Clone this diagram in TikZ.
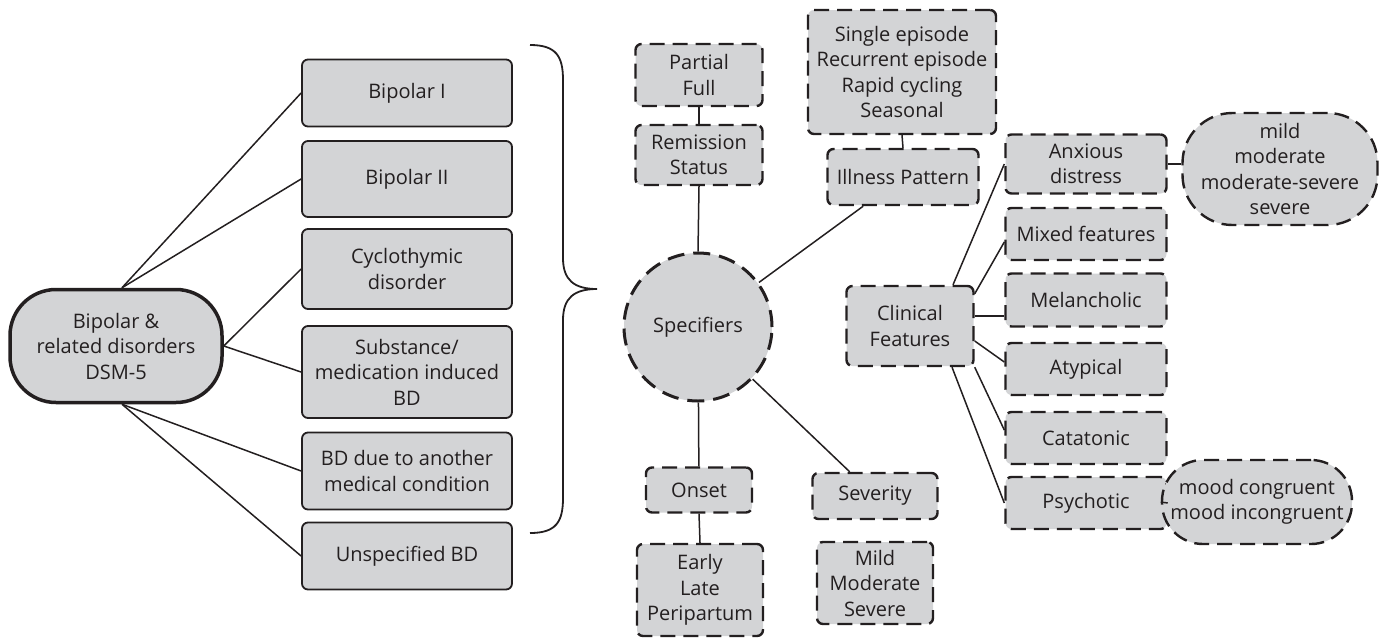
\documentclass[tikz,border=0pt]{standalone}
\usepackage{fontspec}
\setmainfont{Open Sans}
\usetikzlibrary{calc}
\definecolor{boxfill}{RGB}{211,212,214}
\definecolor{ink}{RGB}{35,31,32}

\begin{document}
\begin{tikzpicture}[x=1pt,y=-1pt,
  every node/.style={font=\fontsize{20}{25.5}\selectfont, text=ink, align=center, inner sep=0pt},
  sz/.style 2 args={minimum width=#1pt, minimum height=#2pt},
  base/.style={fill=boxfill, draw=ink},
  solidbox/.style={base, line width=1.8pt, rounded corners=6pt, minimum width=210pt},
  dashbox/.style={base, line width=2.4pt, rounded corners=6pt, dash pattern=on 15pt off 8pt},
  dashoval/.style={base, line width=2.4pt, dash pattern=on 15pt off 8pt},
  link/.style={draw=ink, line width=1.5pt},
]
\useasboundingbox (0,0) rectangle (1391,638);

% ---- root and disorder list ----
\node[base, line width=3.5pt, rounded corners=46pt, sz={212}{113}] (main) at (116,346)
  {Bipolar \&\\related disorders\\DSM-5};

\node[solidbox, minimum height=67pt] (b1) at (407,93)  {Bipolar I};
\node[solidbox, minimum height=76pt] (b2) at (407,179) {Bipolar II};
\node[solidbox, minimum height=80pt] (cy) at (407,269) {Cyclothymic\\disorder};
\node[solidbox, minimum height=92pt] (sm) at (407,372) {Substance/\\medication induced\\BD};
\node[solidbox, minimum height=77pt] (bd) at (407,471) {BD due to another\\medical condition};
\node[solidbox, minimum height=67pt] (un) at (407,556) {Unspecified BD};

\draw[link] ([xshift=6pt]main.north) -- (b1.west);
\draw[link] ([xshift=6pt]main.north) -- (b2.west);
\draw[link] (main.east) -- (cy.west);
\draw[link] (main.east) -- (sm.west);
\draw[link] ([xshift=6pt]main.south) -- (bd.west);
\draw[link] ([xshift=6pt]main.south) -- (un.west);

% ---- brace ----
\draw[ink, line width=1.8pt]
  (530,45) .. controls (556,45) and (563,56) .. (563,80)
  -- (563,258) .. controls (563,280) and (574,289) .. (597,289)
  .. controls (574,289) and (563,298) .. (563,320)
  -- (563,498) .. controls (563,522) and (556,533) .. (530,533);

% ---- specifiers ----
\node[circle, base, line width=3pt, dash pattern=on 17pt off 9pt, minimum size=148pt] (spec) at (698,327) {Specifiers};

\node[dashbox, sz={127}{62}] (pf) at (699,75)  {Partial\\Full};
\node[dashbox, sz={127}{60}] (rs) at (699,155) {Remission\\Status};
\node[dashbox, sz={188}{124}] (se) at (902,72) {Single episode\\Recurrent episode\\Rapid cycling\\Seasonal};
\node[dashbox, sz={151}{56}] (ip) at (903,177) {Illness Pattern};
\node[dashbox, sz={106}{45}] (on) at (699,490) {Onset};
\node[dashbox, sz={126}{92}] (el) at (700,590) {Early\\Late\\Peripartum};
\node[dashbox, sz={125}{46}] (sv) at (875,496) {Severity};
\node[dashbox, sz={116}{82}] (mm) at (875,583) {Mild\\Moderate\\Severe};
\node[dashbox, sz={127}{80}] (cf) at (910,326) {Clinical\\Features};

\draw[link] (pf.south) -- (rs.north);
\draw[link] (rs.south) -- (spec.north);
\draw[link] (se.south) -- (ip.north);
\draw[link] (spec) -- (ip);
\draw[link] (spec) -- (on);
\draw[link] (on.south) -- (el.north);
\draw[link] (spec) -- (sv);

% ---- clinical features ----
\node[dashbox, sz={161}{59}] (ad)  at (1086,164) {Anxious\\distress};
\node[dashbox, sz={161}{52}] (mf)  at (1086,234) {Mixed features};
\node[dashbox, sz={161}{53}] (mel) at (1086,300) {Melancholic};
\node[dashbox, sz={161}{52}] (aty) at (1086,369) {Atypical};
\node[dashbox, sz={161}{52}] (cat) at (1086,438) {Catatonic};
\node[dashbox, sz={161}{52}] (psy) at (1086,503) {Psychotic};

\node[dashoval, rounded corners=50pt, sz={195}{112}] (sevlist) at (1280,169)
  {mild\\moderate\\moderate-severe\\severe};
\node[dashoval, rounded corners=41pt, sz={190}{84}] (mood) at (1257,502)
  {mood congruent\\mood incongruent};

\draw[link] ([xshift=43pt]cf.north) -- (ad.west);
\draw[link] ([yshift=-9pt]cf.north east) -- ([yshift=-8pt]mf.west);
\coordinate (melin) at ([yshift=-16pt]mel.west);
\draw[link] (melin -| cf.east) -- (melin);
\draw[link] ([yshift=-15pt]cf.east) -- ([yshift=7pt]aty.west);
\draw[link] (cf.south east) -- ([yshift=8pt]cat.west);
\draw[link] ([xshift=42pt]cf.south) -- (psy.west);

\draw[link] (ad.east) -- (ad.east -| sevlist.west);
\draw[link] (psy.east) -- (mood.west);
\end{tikzpicture}
\end{document}
